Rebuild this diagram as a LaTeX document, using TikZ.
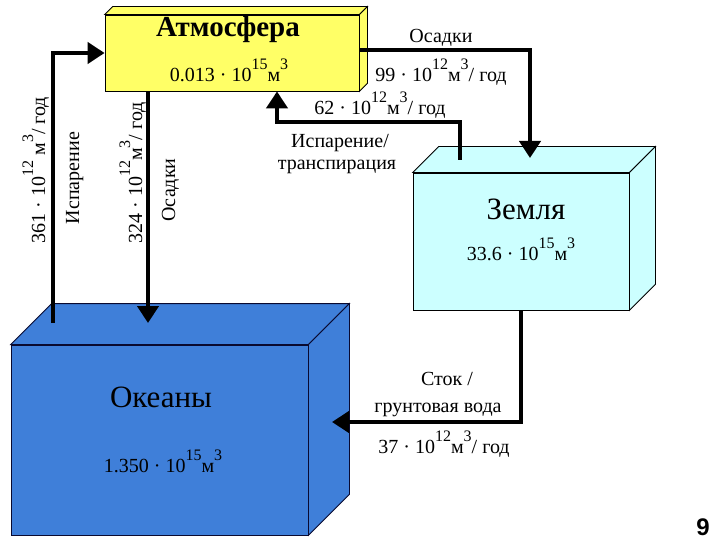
\documentclass[tikz,border=0pt]{standalone}
\usepackage{fontspec}
\setmainfont{Liberation Serif}
\newfontfamily\pagefont{Liberation Sans}
\usetikzlibrary{arrows.meta,calc}
\definecolor{atmoyellow}{HTML}{FFFF66}
\definecolor{landcyan}{HTML}{CCFFFF}
\definecolor{oceanblue}{HTML}{3F7FD9}
\definecolor{oceanedge}{HTML}{0A0A30}
\tikzset{
  front/.style={draw=black, line width=.8pt, inner sep=0pt},
  title/.style={font=\fontsize{31}{35}\selectfont, anchor=base},
  lbl/.style={font=\fontsize{20}{24}\selectfont, anchor=base},
  vlbl/.style={lbl, rotate=90},
  flow/.style={line width=4.5pt, draw=black, -{Triangle[length=17pt,width=21pt]}},
}
\newcommand{\pw}[1]{\raisebox{.6em}{\scalebox{.8}{#1}}}
\newcommand{\sidefaces}[4]{% node, depth, fill, edge
  \draw[front, draw=#4, fill=#3] (#1.north west) -- ++(#2,-#2) -- ([shift={(#2,-#2)}]#1.north east) -- (#1.north east) -- cycle;
  \draw[front, draw=#4, fill=#3] (#1.north east) -- ++(#2,-#2) -- ([shift={(#2,-#2)}]#1.south east) -- (#1.south east) -- cycle;
}

\begin{document}
\begin{tikzpicture}[x=1pt, y=-1pt]
  \useasboundingbox[fill=white] (0,0) rectangle (720,540);
  % reservoirs
  \node[front, fill=atmoyellow, minimum width=254pt, minimum height=76pt] (atm) at (232,53) {};
  \sidefaces{atm}{8}{atmoyellow}{black}
  \node[front, fill=landcyan, minimum width=216pt, minimum height=137pt] (land) at (521,241.5) {};
  \sidefaces{land}{26}{landcyan}{black}
  \node[front, draw=oceanedge, fill=oceanblue, minimum width=297pt, minimum height=190pt] (ocean) at (159.5,440) {};
  \sidefaces{ocean}{41}{oceanblue}{oceanedge}

  \node[title, font=\bfseries\fontsize{29}{33}\selectfont] (atmname) at (228,37) {Атмосфера};
  \node[lbl] (atmvol) at (229,82) {0.013 · 10\pw{15}м\pw{3}};
  \node[title] (landname) at (526,219) {Земля};
  \node[lbl] (landvol) at (521,260) {33.6 · 10\pw{15}м\pw{3}};
  \node[title] (oceanname) at (161,407) {Океаны};
  \node[lbl] (oceanvol) at (163,472) {1.350 · 10\pw{15}м\pw{3}};

  % flows
  \coordinate (oceanup) at (53,323);
  \coordinate (oceanin) at (148,323);
  \coordinate (landin) at (530,158);
  \coordinate (landup) at (460,160);
  \coordinate (evapbend) at (277,122);
  \coordinate (runoffin) at (332,422);
  \draw[flow] (oceanup) |- (atm.west);
  \draw[flow] (atm.south -| oceanin) -- (oceanin);
  \draw[flow] ([yshift=3pt]atm.east) -| (landin);
  \draw[flow] (landup) |- (evapbend) -- (evapbend |- atm.south);
  \draw[flow] (land.south) |- (runoffin);

  % flow labels
  \node[vlbl] (evaprate) at (45,170) {361 · 10\pw{12} м\pw{3}/ год};
  \node[vlbl] (evapname) at (79,178) {Испарение};
  \node[vlbl] (precrate) at (142,173) {324 · 10\pw{12}м\pw{3}/ год};
  \node[vlbl] (precname) at (175,190) {Осадки};
  \node[lbl] (landprecname) at (441,43) {Осадки};
  \node[lbl] (landprecrate) at (441,82) {99 · 10\pw{12}м\pw{3}/ год};
  \node[lbl] (transrate) at (380,115) {62 · 10\pw{12}м\pw{3}/ год};
  \node[lbl] (transname) at (340,148) {Испарение/};
  \node[lbl] (transname2) at (337,170) {транспирация};
  \node[lbl] (runoffname) at (447,385) {Сток /};
  \node[lbl] (runoffname2) at (438,412) {грунтовая вода};
  \node[lbl] (runoffrate) at (444,453) {37 · 10\pw{12}м\pw{3}/ год};

  \node[anchor=base, font=\pagefont\bfseries\fontsize{24}{28}\selectfont] (pagenum) at (703,535) {9};
\end{tikzpicture}
\end{document}
